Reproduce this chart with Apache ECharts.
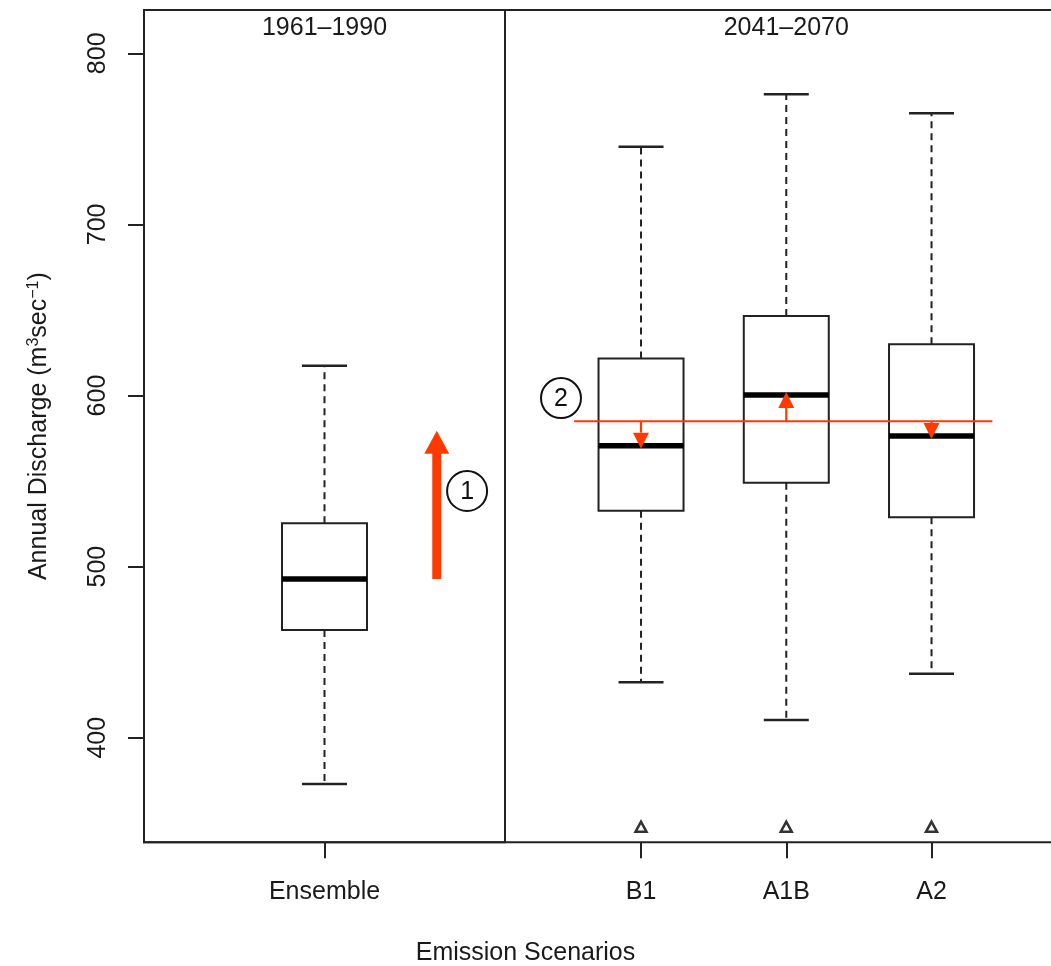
<!DOCTYPE html>
<html>
<head>
<meta charset="utf-8">
<script src="https://cdn.jsdelivr.net/npm/echarts@6/dist/echarts.min.js"></script>
<style>html,body{margin:0;padding:0;background:#fff}#c{width:1051px;height:966px}</style>
</head>
<body>
<div id="c"></div>
<script>
// ---- data ----
const leftCategories = ['Ensemble'];
const rightCategories = ['B1', 'A1B', 'A2'];
const panelTitles = ['1961–1990', '2041–2070'];
const ensembleLow = [373.0];
const ensembleQ1 = [463.0];
const ensembleMedian = [492.8];
const ensembleQ3 = [525.3];
const ensembleHigh = [617.4];
const scenarioLow = [432.4, 410.3, 437.4];
const scenarioQ1 = [532.7, 549.0, 528.8];
const scenarioMedian = [570.7, 600.3, 576.3];
const scenarioQ3 = [621.7, 646.5, 630.0];
const scenarioHigh = [745.4, 776.0, 765.0];
const scenarioMarker = [348, 348, 348];
const referenceLevel = 585;          // red line (2)
const arrowOneTop = 579.4;           // tip of red arrow (1)
const yTickValues = [400, 500, 600, 700, 800];
const yMin = 338.9, yMax = 825.3;

// ---- style ----
const FONT = '"Liberation Sans", Arial, Helvetica, sans-serif';
const INK = '#222';
const RED = '#ff3a00';
const BOX_W = 85;
const FS = 25;

const chart = echarts.init(document.getElementById('c'), null, {renderer: 'canvas'});

function boxRows(lo, q1, med, q3, hi) {
  return lo.map((v, i) => [i, lo[i], q1[i], med[i], q3[i], hi[i]]);
}

function renderBox(params, api) {
  const idx = api.value(0);
  const lo = api.value(1), q1 = api.value(2), med = api.value(3), q3 = api.value(4), hi = api.value(5);
  const cx = api.coord([idx, med])[0];
  const y = v => api.coord([idx, v])[1];
  const hw = BOX_W / 2, cw = 22.5;
  return {
    type: 'group',
    children: [
      {type: 'line', shape: {x1: cx, y1: y(q3), x2: cx, y2: y(hi)}, style: {stroke: INK, lineWidth: 2, lineDash: [7, 5]}},
      {type: 'line', shape: {x1: cx, y1: y(q1), x2: cx, y2: y(lo)}, style: {stroke: INK, lineWidth: 2, lineDash: [7, 5]}},
      {type: 'line', shape: {x1: cx - cw, y1: y(hi), x2: cx + cw, y2: y(hi)}, style: {stroke: INK, lineWidth: 2.5}},
      {type: 'line', shape: {x1: cx - cw, y1: y(lo), x2: cx + cw, y2: y(lo)}, style: {stroke: INK, lineWidth: 2.5}},
      {type: 'rect', shape: {x: cx - hw, y: y(q3), width: BOX_W, height: y(q1) - y(q3)}, style: {fill: '#fff', stroke: INK, lineWidth: 2}},
      {type: 'line', shape: {x1: cx - hw, y1: y(med), x2: cx + hw, y2: y(med)}, style: {stroke: '#000', lineWidth: 5.5}}
    ]
  };
}

function circled(cx, cy, label) {
  return [
    {type: 'circle', shape: {cx: cx, cy: cy, r: 20}, style: {fill: '#fff', stroke: '#111', lineWidth: 2}},
    {type: 'text', style: {text: label, x: cx, y: cy + 1, align: 'center', verticalAlign: 'middle', fontSize: 25, fontFamily: FONT, fill: '#111'}}
  ];
}

// red arrow (1) in left panel
function renderArrowOne(params, api) {
  const from = api.value(1), to = api.value(2);
  const band = api.size([1, 0])[0];
  const base = api.coord([0, from]);
  const cx = base[0] + 0.311 * band;
  const y0 = base[1], y1 = api.coord([0, to])[1];
  const headH = 23, headW = 25, shaftW = 9;
  const ccx = base[0] + 0.395 * band, ccy = api.coord([0, 544.2])[1];
  return {
    type: 'group',
    children: [
      {type: 'rect', shape: {x: cx - shaftW / 2, y: y1 + headH - 1, width: shaftW, height: y0 - (y1 + headH - 1)}, style: {fill: RED}},
      {type: 'polygon', shape: {points: [[cx, y1], [cx - headW / 2, y1 + headH], [cx + headW / 2, y1 + headH]]}, style: {fill: RED}}
    ].concat(circled(ccx, ccy, '1'))
  };
}

// red reference line (2) in right panel
function renderRefLine(params, api) {
  const level = api.value(1);
  const band = api.size([1, 0])[0];
  const yL = api.coord([0, level])[1];
  const xStart = api.coord([0, level])[0] - 0.461 * band;
  const xEnd = api.coord([2, level])[0] + 0.419 * band;
  const ccx = api.coord([0, level])[0] - 0.551 * band, ccy = api.coord([0, 598.5])[1];
  return {
    type: 'group',
    children: [
      {type: 'line', shape: {x1: xStart, y1: yL, x2: xEnd, y2: yL}, style: {stroke: RED, lineWidth: 2}}
    ].concat(circled(ccx, ccy, '2'))
  };
}

// small arrows from the reference line to each scenario median
function renderSmallArrow(params, api) {
  const idx = api.value(0), med = api.value(1), level = api.value(2);
  const cx = api.coord([idx, med])[0];
  const yL = api.coord([idx, level])[1];
  const yM = api.coord([idx, med])[1];
  const dir = yM > yL ? 1 : -1;
  const tip = yM + 3 * dir;
  const headH = 16, headW = 16;
  const hb = tip - headH * dir;
  return {
    type: 'group',
    children: [
      {type: 'line', shape: {x1: cx, y1: yL, x2: cx, y2: hb}, style: {stroke: RED, lineWidth: 2.2}},
      {type: 'polygon', shape: {points: [[cx, tip], [cx - headW / 2, hb], [cx + headW / 2, hb]]}, style: {fill: RED}}
    ]
  };
}

const axisTextStyle = {color: '#1a1a1a', fontFamily: FONT, fontSize: FS};
const TOP = 10, HEIGHT = 832.3;

const option = {
  backgroundColor: '#fff',
  animation: false,
  title: [{
    text: 'Emission Scenarios', left: 'center', top: 936,
    textStyle: {color: '#1a1a1a', fontFamily: FONT, fontSize: FS, fontWeight: 'normal'}
  }],
  grid: [
    {left: 144, top: TOP, width: 925, height: HEIGHT, show: true, borderColor: INK, borderWidth: 2, containLabel: false, outerBoundsMode: 'none'},
    {left: 144, top: TOP, width: 361, height: HEIGHT, show: true, borderColor: INK, borderWidth: 2, containLabel: false, outerBoundsMode: 'none'},
    {left: 568.4, top: TOP, width: 435.75, height: HEIGHT, show: false, containLabel: false, outerBoundsMode: 'none'}
  ],
  xAxis: [
    {gridIndex: 0, type: 'value', min: 0, max: 1, show: false},
    {gridIndex: 1, type: 'category', data: leftCategories, position: 'bottom',
      axisLine: {show: false}, axisTick: {show: true, alignWithLabel: true, length: 16, lineStyle: {color: INK, width: 2}},
      axisLabel: Object.assign({margin: 37}, axisTextStyle), splitLine: {show: false}},
    {gridIndex: 1, type: 'category', data: [panelTitles[0]], position: 'top',
      axisLine: {show: false}, axisTick: {show: false},
      axisLabel: Object.assign({inside: true, margin: 6}, axisTextStyle), splitLine: {show: false}},
    {gridIndex: 2, type: 'category', data: rightCategories, position: 'bottom',
      axisLine: {show: false}, axisTick: {show: true, alignWithLabel: true, length: 16, lineStyle: {color: INK, width: 2}},
      axisLabel: Object.assign({margin: 37}, axisTextStyle), splitLine: {show: false}},
    {gridIndex: 2, type: 'category', data: [panelTitles[1]], position: 'top',
      axisLine: {show: false}, axisTick: {show: false},
      axisLabel: Object.assign({inside: true, margin: 6}, axisTextStyle), splitLine: {show: false}}
  ],
  yAxis: [
    {gridIndex: 0, type: 'value', min: yMin, max: yMax,
      axisLine: {show: false},
      axisTick: {show: true, length: 16, lineStyle: {color: INK, width: 2}, customValues: yTickValues},
      axisLabel: Object.assign({rotate: 90, margin: 33, customValues: yTickValues}, axisTextStyle),
      splitLine: {show: false},
      name: 'Annual Discharge (m{sup|3}sec{sup|−1})',
      nameLocation: 'middle', nameRotate: 90, nameGap: 92,
      nameTextStyle: {color: '#1a1a1a', fontFamily: FONT, fontSize: FS,
        rich: {sup: {fontSize: 16, fontFamily: FONT, color: '#1a1a1a', verticalAlign: 'top', padding: [0, 0, 10, 0]}}}
    },
    {gridIndex: 1, type: 'value', min: yMin, max: yMax, show: false, splitLine: {show: false}},
    {gridIndex: 2, type: 'value', min: yMin, max: yMax, show: false, splitLine: {show: false}}
  ],
  series: [
    {type: 'custom', name: 'Ensemble', xAxisIndex: 1, yAxisIndex: 1, z: 3,
      data: boxRows(ensembleLow, ensembleQ1, ensembleMedian, ensembleQ3, ensembleHigh),
      encode: {x: 0, y: [1, 2, 3, 4, 5]}, renderItem: renderBox},
    {type: 'custom', name: 'Scenarios', xAxisIndex: 3, yAxisIndex: 2, z: 3,
      data: boxRows(scenarioLow, scenarioQ1, scenarioMedian, scenarioQ3, scenarioHigh),
      encode: {x: 0, y: [1, 2, 3, 4, 5]}, renderItem: renderBox},
    {type: 'scatter', name: 'marker', xAxisIndex: 3, yAxisIndex: 2, z: 3,
      data: scenarioMarker, symbol: 'triangle', symbolSize: [11, 10],
      itemStyle: {color: '#fff', borderColor: '#000', borderWidth: 2.5}},
    {type: 'custom', name: 'arrow1', xAxisIndex: 1, yAxisIndex: 1, z: 5,
      data: [[0, ensembleMedian[0], arrowOneTop]], encode: {x: 0, y: [1, 2]}, renderItem: renderArrowOne},
    {type: 'custom', name: 'refline', xAxisIndex: 3, yAxisIndex: 2, z: 5,
      data: [[0, referenceLevel]], encode: {x: 0, y: 1}, renderItem: renderRefLine},
    {type: 'custom', name: 'arrows2', xAxisIndex: 3, yAxisIndex: 2, z: 6,
      data: scenarioMedian.map((m, i) => [i, m, referenceLevel]), encode: {x: 0, y: [1, 2]}, renderItem: renderSmallArrow}
  ]
};
chart.setOption(option);
</script>
</body>
</html>
